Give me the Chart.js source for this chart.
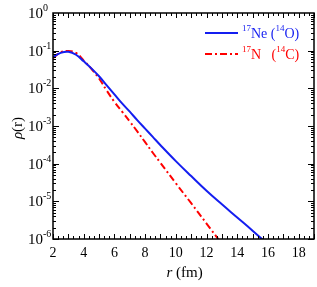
<!DOCTYPE html>
<html lang="en">
  <head>
    <title>density</title>
    <meta charset="utf-8">
    <script type="text/javascript" src="https://cdn.jsdelivr.net/npm/chart.js@4/dist/chart.umd.min.js"></script>
    <style>
      body { margin: 0; background: #fff; }
      #wrap { width: 317px; height: 287px; }
    </style>
  </head>
  <body>
    <div id="wrap"><canvas id="main-chart" width="317" height="287"></canvas></div>
    <script>
      // 17Ne (14O) density
      var r_ne = [2, 2.5, 3, 3.5, 4, 4.5, 5, 5.5, 6, 6.5, 7, 7.5, 8, 8.5, 9, 10, 11, 12, 13, 14, 15, 16];
      var rho_ne = [0.0676, 0.0871, 0.0933, 0.0780, 0.0520, 0.0339, 0.0209, 0.0120, 6.92e-3, 3.98e-3,
                    2.40e-3, 1.41e-3, 8.51e-4, 5.13e-4, 3.09e-4, 1.17e-4, 4.68e-5, 1.91e-5, 8.32e-6,
                    3.72e-6, 1.66e-6, 7.2e-7];
      // 17N (14C)
      var r_n = [2, 2.5, 3, 3.5, 4, 4.5, 5, 5.5, 6, 6.5, 7, 7.5, 8, 8.5, 9, 10, 11, 12, 13];
      var rho_n = [0.0631, 0.0912, 0.0977, 0.0871, 0.0545, 0.0331, 0.0182, 8.71e-3, 4.37e-3, 2.40e-3,
                   1.32e-3, 7.08e-4, 3.72e-4, 1.95e-4, 1.05e-4, 3.02e-5, 8.91e-6, 2.57e-6, 7.4e-7];

      var x_labels = [2, 4, 6, 8, 10, 12, 14, 16, 18];
      var y_decades = [1, 1e-1, 1e-2, 1e-3, 1e-4, 1e-5, 1e-6];
      var y_exps = ['0', '-1', '-2', '-3', '-4', '-5', '-6'];

      var BLUE = 'rgb(20,30,240)';
      var RED = 'rgb(255,0,0)';
      var SERIF = '"Liberation Serif", "DejaVu Serif", serif';

      function pts(xs, ys) {
        var out = [];
        for (var i = 0; i < xs.length; i++) out.push({x: xs[i], y: ys[i]});
        return out;
      }

      // draws a run of [text, isSup, italic] pieces starting at x
      function draw_rich(ctx, parts, x, y, size, color) {
        ctx.fillStyle = color;
        ctx.textAlign = 'left';
        ctx.textBaseline = 'middle';
        parts.forEach(function (p) {
          var sz = p[1] ? Math.round(size * 0.65) : size;
          ctx.font = (p[2] ? 'italic ' : '') + sz + 'px ' + SERIF;
          ctx.fillText(p[0], x, p[1] ? y - size * 0.38 : y);
          x += ctx.measureText(p[0]).width;
        });
        return x;
      }

      var frame_plugin = {
        id: 'frame',
        afterDatasetsDraw: function (chart) {
          var ctx = chart.ctx, a = chart.chartArea;
          var xs = chart.scales.x, ys = chart.scales.y;
          ctx.save();
          ctx.strokeStyle = '#000';
          ctx.lineWidth = 1.5;
          ctx.strokeRect(a.left, a.top, a.right - a.left, a.bottom - a.top);

          ctx.lineWidth = 1;
          ctx.beginPath();
          // x ticks, inward on bottom and top
          for (var k = 6; k <= 57; k++) {
            var v = k / 3;
            var px = Math.round(xs.getPixelForValue(v)) + 0.5;
            var len = (k % 3 === 0) ? 5 : 3;
            ctx.moveTo(px, a.bottom); ctx.lineTo(px, a.bottom - len);
            ctx.moveTo(px, a.top); ctx.lineTo(px, a.top + len);
          }
          // y ticks, log minors
          for (var d = 0; d < 6; d++) {
            for (var m = 1; m <= 9; m++) {
              var yv = m * y_decades[d + 1];
              var py = Math.round(ys.getPixelForValue(yv)) + 0.5;
              var ln = (m === 1) ? 6 : 3;
              ctx.moveTo(a.left, py); ctx.lineTo(a.left + ln, py);
              ctx.moveTo(a.right, py); ctx.lineTo(a.right - ln, py);
            }
          }
          ctx.stroke();

          // x tick labels
          ctx.fillStyle = '#000';
          ctx.font = '14px ' + SERIF;
          ctx.textAlign = 'center';
          ctx.textBaseline = 'middle';
          x_labels.forEach(function (v) {
            ctx.fillText(String(v), xs.getPixelForValue(v), a.bottom + 14);
          });
          // y tick labels
          y_decades.forEach(function (v, i) {
            draw_rich(ctx, [['10', false], [y_exps[i], true]], 28, ys.getPixelForValue(v) + 1, 15, '#000');
          });

          // axis titles
          var tw = 0;
          ctx.font = 'italic 15px ' + SERIF;
          tw = ctx.measureText('r').width;
          ctx.font = '15px ' + SERIF;
          tw += ctx.measureText(' (fm)').width;
          draw_rich(ctx, [['r', false, true], [' (fm)', false]], (a.left + a.right) / 2 - tw / 2 + 1, 273, 15, '#000');

          ctx.save();
          ctx.translate(18, (a.top + a.bottom) / 2 + 2);
          ctx.rotate(-Math.PI / 2);
          ctx.font = 'italic 15px ' + SERIF;
          var w1 = ctx.measureText('\u03c1').width;
          ctx.font = '15px ' + SERIF;
          var w2 = ctx.measureText('(r)').width;
          draw_rich(ctx, [['\u03c1', false, true], ['(r)', false]], -(w1 + w2) / 2, 0, 15, '#000');
          ctx.restore();

          // legend
          ctx.lineWidth = 2;
          ctx.strokeStyle = BLUE;
          ctx.setLineDash([]);
          ctx.beginPath(); ctx.moveTo(205, 33); ctx.lineTo(238, 33); ctx.stroke();
          draw_rich(ctx, [['17', true], ['Ne (', false], ['14', true], ['O)', false]], 242, 34, 14, BLUE);
          ctx.strokeStyle = RED;
          ctx.setLineDash([7, 3, 2, 3]);
          ctx.beginPath(); ctx.moveTo(205, 54); ctx.lineTo(238, 54); ctx.stroke();
          ctx.setLineDash([]);
          draw_rich(ctx, [['17', true], ['N   (', false], ['14', true], ['C)', false]], 242, 55, 14, RED);
          ctx.restore();
        }
      };

      var main_chart = new Chart(document.getElementById('main-chart'), {
        type: 'line',
        data: {
          datasets: [
            {
              label: '17Ne (14O)',
              data: pts(r_ne, rho_ne),
              borderColor: BLUE,
              borderWidth: 2,
              pointRadius: 0,
              tension: 0.4,
              fill: false
            },
            {
              label: '17N (14C)',
              data: pts(r_n, rho_n),
              borderColor: RED,
              borderWidth: 2,
              borderDash: [7, 3, 2, 3],
              pointRadius: 0,
              tension: 0.4,
              fill: false
            }
          ]
        },
        options: {
          responsive: false,
          animation: false,
          layout: { padding: { top: 13, right: 3, left: 0, bottom: 0 } },
          plugins: { legend: { display: false }, tooltip: { enabled: false } },
          scales: {
            x: {
              type: 'linear', min: 2, max: 19,
              ticks: { display: false },
              grid: { display: false },
              border: { display: false },
              afterFit: function (s) { s.height = 48; }
            },
            y: {
              type: 'logarithmic', min: 1e-6, max: 1,
              ticks: { display: false },
              grid: { display: false },
              border: { display: false },
              afterFit: function (s) { s.width = 53; }
            }
          }
        },
        plugins: [frame_plugin]
      });
    </script>
  </body>
</html>
